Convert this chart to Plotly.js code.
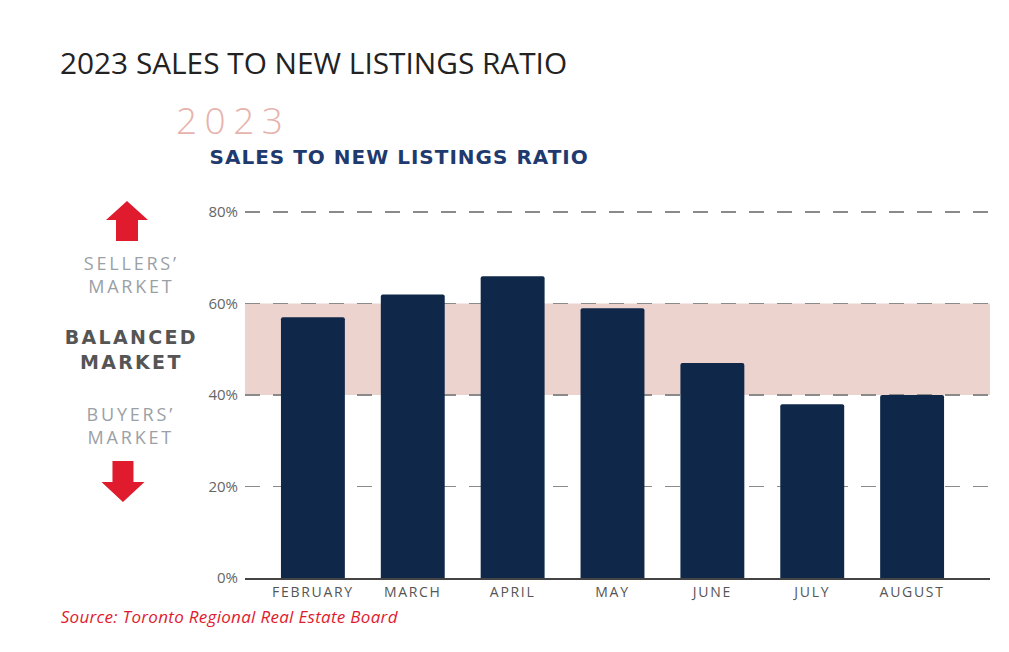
<!DOCTYPE html>
<html>
<head>
<meta charset="utf-8">
<script src="https://cdn.plot.ly/plotly-3.0.1.min.js"></script>
<style>
html,body{margin:0;padding:0;background:#fff;}
#chart{width:1009px;height:652px;}
.annotation[data-index="1"] text{letter-spacing:7.5px;}
.annotation[data-index="2"] text{letter-spacing:1px;}
.annotation[data-index="3"] text, .annotation[data-index="5"] text{letter-spacing:2.8px;}
.annotation[data-index="4"] text{letter-spacing:2.3px;}
.annotation[data-index="6"] text{letter-spacing:0.3px;}
.xtick text{letter-spacing:1.7px;}
</style>
</head>
<body>
<div id="chart"></div>
<script>
const months = ["FEBRUARY","MARCH","APRIL","MAY","JUNE","JULY","AUGUST"];
const ratio = [57, 62, 66, 59, 47, 38, 40];
const yTicks = [0, 20, 40, 60, 80];
const balancedLow = 40;
const balancedHigh = 60;

const trace = {
  type: "bar",
  x: months,
  y: ratio,
  marker: {color: "#0f2849", line: {width: 0}},
  hoverinfo: "x+y"
};

const layout = {
  width: 1009, height: 652,
  margin: {l: 245, r: 19, t: 203, b: 74},
  paper_bgcolor: "#ffffff",
  plot_bgcolor: "#ffffff",
  showlegend: false,
  bargap: 0.36,
  barcornerradius: 2,
  font: {family: "'Open Sans', sans-serif", color: "#555"},
  xaxis: {
    type: "category",
    range: [-0.68, 6.78],
    showgrid: false,
    showline: true, linecolor: "#444", linewidth: 1.5,
    ticks: "",
    ticklabelstandoff: 1,
    tickfont: {size: 14, color: "#555", family: "'Open Sans', sans-serif"},
    fixedrange: true
  },
  yaxis: {
    range: [0, 82],
    tickvals: yTicks,
    ticktext: yTicks.map(v => v + "%"),
    showgrid: true, gridcolor: "#8a8a8a", gridwidth: 1.5, griddash: "15px,13px",
    zeroline: false,
    showline: false,
    ticks: "",
    ticklabelstandoff: 6,
    tickfont: {size: 15, color: "#666", family: "'Open Sans', sans-serif"},
    fixedrange: true
  },
  shapes: [
    {type: "rect", xref: "paper", yref: "y", x0: 0, x1: 1, y0: balancedLow, y1: balancedHigh,
     fillcolor: "#ecd3ce", line: {width: 0}, layer: "below"},
    // up arrow (sellers' market)
    {type: "path", xref: "paper", yref: "paper", xsizemode: "pixel", ysizemode: "pixel",
     xanchor: -0.1584, yanchor: 1.0,
     path: "M 0 2 L 21 -17 L 11 -17 L 11 -38 L -11 -38 L -11 -17 L -21 -17 Z",
     fillcolor: "#e11b2e", line: {width: 0}},
    // down arrow (buyers' market)
    {type: "path", xref: "paper", yref: "paper", xsizemode: "pixel", ysizemode: "pixel",
     xanchor: -0.1638, yanchor: 0.0,
     path: "M 0 76 L 21.5 96 L 10.5 96 L 10.5 117 L -10.5 117 L -10.5 96 L -21.5 96 Z",
     fillcolor: "#e11b2e", line: {width: 0}}
  ],
  annotations: [
    {text: "2023 SALES TO NEW LISTINGS RATIO", xref: "paper", yref: "paper",
     x: -0.2484, y: 1.0, xanchor: "left", yanchor: "middle", xshift: -2, yshift: 141, showarrow: false,
     font: {size: 29.8, color: "#222", family: "'Open Sans', sans-serif"}},
    {text: "2023", xref: "paper", yref: "paper", x: -0.0925, y: 1, xanchor: "left", yanchor: "middle",
     xshift: 13, yshift: 84, showarrow: false, font: {size: 37, color: "#e8b2ad", family: "'Open Sans', sans-serif", weight: 300}},
    {text: "<b>SALES TO NEW LISTINGS RATIO</b>", xref: "paper", yref: "paper", x: -0.0470, y: 1,
     xanchor: "left", yanchor: "middle", xshift: 11, yshift: 46, showarrow: false,
     font: {size: 20, color: "#1f3a6e", family: "'DejaVu Sans', sans-serif"}},
    {text: "SELLERS’<br>MARKET", xref: "paper", yref: "paper", x: -0.153, y: 1, xanchor: "center", yanchor: "middle",
     yshift: -71, showarrow: false, font: {size: 18, color: "#9aa0a6", family: "'Open Sans', sans-serif"}},
    {text: "<b>BALANCED<br>MARKET</b>", xref: "paper", yref: "paper", x: -0.153, y: 1, xanchor: "center", yanchor: "middle",
     yshift: -146, showarrow: false, font: {size: 19, color: "#555", family: "'DejaVu Sans', sans-serif"}},
    {text: "BUYERS’<br>MARKET", xref: "paper", yref: "paper", x: -0.153, y: 1, xanchor: "center", yanchor: "middle",
     yshift: -222, showarrow: false, font: {size: 18, color: "#9aa0a6", family: "'Open Sans', sans-serif"}},
    {text: "<i>Source: Toronto Regional Real Estate Board</i>", xref: "paper", yref: "paper", x: -0.2484, y: 0,
     xanchor: "left", yanchor: "middle", xshift: 5, yshift: -38, showarrow: false,
     font: {size: 17, color: "#e11b2e", family: "'Open Sans', sans-serif"}}
  ]
};

Plotly.newPlot("chart", [trace], layout, {displayModeBar: false, staticPlot: true});
</script>
</body>
</html>
